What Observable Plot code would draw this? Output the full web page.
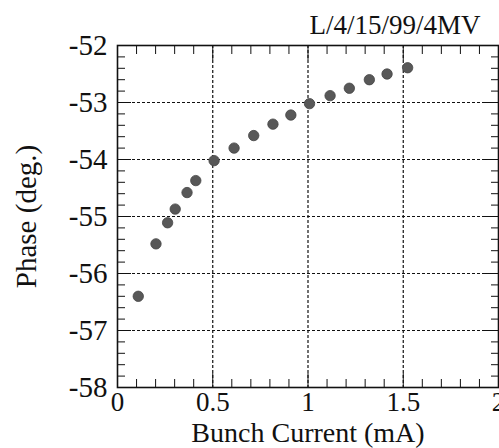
<!DOCTYPE html>
<html><head><meta charset="utf-8">
<script src="https://cdn.jsdelivr.net/npm/d3@7"></script>
<script src="https://cdn.jsdelivr.net/npm/@observablehq/plot@0.6"></script>
<style>body{margin:0;background:#fff}</style>
</head><body><div id="chart"></div>
<script>
const current = [0.109, 0.202, 0.263, 0.303, 0.365, 0.411, 0.507, 0.612, 0.715, 0.816, 0.91, 1.008, 1.116, 1.217, 1.322, 1.415, 1.523];
const phase = [-56.40, -55.48, -55.11, -54.87, -54.58, -54.37, -54.02, -53.80, -53.58, -53.38, -53.22, -53.02, -52.88, -52.75, -52.60, -52.50, -52.39];
const xMajor = [0, 0.5, 1, 1.5, 2];
const xMinor = [0.1,0.2,0.3,0.4,0.6,0.7,0.8,0.9,1.1,1.2,1.3,1.4,1.6,1.7,1.8,1.9];
const yMajor = [-58, -57, -56, -55, -54, -53, -52];
const yMinor = [-57.8,-57.6,-57.4,-57.2,-56.8,-56.6,-56.4,-56.2,-55.8,-55.6,-55.4,-55.2,-54.8,-54.6,-54.4,-54.2,-53.8,-53.6,-53.4,-53.2,-52.8,-52.6,-52.4,-52.2];
const xGrid = [0.5, 1, 1.5];
const yGrid = [-57, -56, -55, -54, -53];
const title = "L/4/15/99/4MV";
const xLabel = "Bunch Current (mA)";
const yLabel = "Phase (deg.)";

const data = current.map((c, i) => ({current: c, phase: phase[i]}));
const fmt = d => String(d);
const ink = "#111";

const plot = Plot.plot({
  width: 499, height: 448,
  marginLeft: 117, marginRight: 1, marginTop: 45, marginBottom: 61,
  style: {fontFamily: "'Liberation Serif', 'Times New Roman', serif", fontSize: "29px", color: ink, background: "#fff"},
  x: {domain: [0, 2]},
  y: {domain: [-58, -52]},
  marks: [
    Plot.gridX(xGrid, {stroke: ink, strokeOpacity: 1, strokeDasharray: "3,2", strokeWidth: 1.2}),
    Plot.gridY(yGrid, {stroke: ink, strokeOpacity: 1, strokeDasharray: "3,2", strokeWidth: 1.2}),
    // inward tick marks
    Plot.axisX(xMinor, {anchor: "bottom", tickSize: -8, tickFormat: () => "", label: null, stroke: ink}),
    Plot.axisX(xMajor, {anchor: "bottom", tickSize: -14, tickFormat: () => "", label: null, stroke: ink}),
    Plot.axisX(xMinor, {anchor: "top", tickSize: -8, tickFormat: () => "", label: null, stroke: ink}),
    Plot.axisX(xMajor, {anchor: "top", tickSize: -14, tickFormat: () => "", label: null, stroke: ink}),
    Plot.axisY(yMinor, {anchor: "left", tickSize: -8, tickFormat: () => "", label: null, stroke: ink}),
    Plot.axisY(yMajor, {anchor: "left", tickSize: -14, tickFormat: () => "", label: null, stroke: ink}),
    Plot.axisY(yMinor, {anchor: "right", tickSize: -8, tickFormat: () => "", label: null, stroke: ink}),
    Plot.axisY(yMajor, {anchor: "right", tickSize: -14, tickFormat: () => "", label: null, stroke: ink}),
    // tick labels
    Plot.axisX(xMajor, {anchor: "bottom", tickSize: 0, tickPadding: 4, fontSize: 27, tickFormat: fmt, label: null, fill: ink}),
    Plot.axisY(yMajor, {anchor: "left", tickSize: 0, tickPadding: 10, fontSize: 29, tickFormat: fmt, label: null, fill: ink}),
    // axis titles
    Plot.text([xLabel], {frameAnchor: "bottom", dy: 54, lineAnchor: "bottom", textAnchor: "middle", fontSize: 28, fill: ink}),
    Plot.text([yLabel], {frameAnchor: "left", dx: -91, rotate: -90, textAnchor: "middle", lineAnchor: "middle", fontSize: 29, fill: ink}),
    Plot.frame({stroke: ink, strokeWidth: 1.6}),
    Plot.dot(data, {x: "current", y: "phase", r: 5.2, fill: "#585858", stroke: "#444", strokeWidth: 0.8}),
    Plot.text([title], {frameAnchor: "top-right", dx: -18, dy: -12, lineAnchor: "bottom", textAnchor: "end", fontSize: 27, fill: ink})
  ]
});
document.getElementById("chart").append(plot);
</script>
</body></html>
